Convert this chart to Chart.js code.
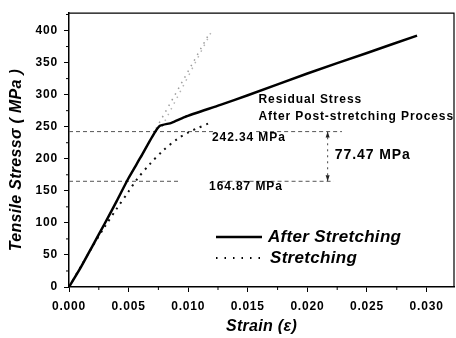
<!DOCTYPE html>
<html>
<head>
<meta charset="utf-8">
<script src="https://cdn.jsdelivr.net/npm/chart.js@4.4.1/dist/chart.umd.min.js"></script>
<style>
  html, body { margin: 0; padding: 0; background: #fff; }
  canvas { display: block; }
</style>
</head>
<body>
<canvas id="stressChart" width="456" height="338"></canvas>
<script>
// readings taken off the figure
const afterStrain = [0, 0.001, 0.002, 0.003, 0.004, 0.005, 0.006, 0.007, 0.0076, 0.0086, 0.0097, 0.0127, 0.015, 0.020, 0.025, 0.0292];
const afterStress = [0, 31, 65, 99, 134, 170, 202, 235, 251, 256, 265, 284, 299, 333, 365, 392];

const stretchStrain = [0, 0.001, 0.002, 0.003, 0.004, 0.005, 0.0057, 0.0068, 0.0079, 0.0091, 0.0101, 0.0107, 0.0117];
const stretchStress = [0, 32, 64, 94, 122, 149, 168, 192, 213, 231, 242, 247, 255];

// light dotted elastic extensions
const elasticAStrain = [0.0073, 0.0117];
const elasticAStress = [247, 393];
const elasticBStrain = [0.0078, 0.0120];
const elasticBStress = [250, 400];

// residual stress guide lines (null = gap)
const upperLevel = 242.34;
const lowerLevel = 164.87;
const upperGuideStrain = [0, 0.0121, 0.0139, 0.0157, 0.0229];
const lowerGuideStrain = [0, 0.0093, 0.0110, 0.0128, 0.0222];
const arrowStrain = 0.0217;

const xTicks = [0, 0.005, 0.010, 0.015, 0.020, 0.025, 0.030];
const yTicks = [0, 50, 100, 150, 200, 250, 300, 350, 400];

function pairs(xs, ys) {
  return xs.map((x, i) => ({ x: x, y: ys[i] }));
}
function guide(xs, level) {
  return xs.map((x, i) => ({ x: x, y: i === 2 ? null : level }));
}

const FONT = "'Liberation Sans', Arial, sans-serif";

const decorPlugin = {
  id: 'decor',
  beforeDraw(chart) {
    chart.ctx.letterSpacing = '0.8px';
  },
  afterDraw(chart) {
    const ctx = chart.ctx;
    const xs = chart.scales.x, ys = chart.scales.y;
    const a = chart.chartArea;
    const px = v => xs.getPixelForValue(v);
    const py = v => ys.getPixelForValue(v);

    ctx.save();
    // frame top / right
    ctx.strokeStyle = '#000';
    ctx.lineWidth = 1.2;
    ctx.beginPath();
    ctx.moveTo(a.left, a.top);
    ctx.lineTo(a.right, a.top);
    ctx.lineTo(a.right, a.bottom);
    ctx.stroke();

    // minor ticks
    ctx.lineWidth = 1;
    ctx.beginPath();
    for (let i = 0; i < xTicks.length; i++) {
      const v = xTicks[i] + 0.0025;
      if (v > xs.max) break;
      ctx.moveTo(px(v), a.bottom);
      ctx.lineTo(px(v), a.bottom + 3);
    }
    for (let i = 0; i < yTicks.length; i++) {
      const v = yTicks[i] + 25;
      if (v > ys.max) break;
      ctx.moveTo(a.left - 3, py(v));
      ctx.lineTo(a.left, py(v));
    }
    ctx.stroke();

    // arrow heads of the 77.47 MPa gap
    const ax = px(arrowStrain);
    const yTop = py(upperLevel), yBot = py(lowerLevel);
    ctx.fillStyle = '#222';
    ctx.beginPath();
    ctx.moveTo(ax, yTop);
    ctx.lineTo(ax - 2, yTop + 6);
    ctx.lineTo(ax + 2, yTop + 6);
    ctx.closePath();
    ctx.fill();
    ctx.beginPath();
    ctx.moveTo(ax, yBot);
    ctx.lineTo(ax - 2, yBot - 6);
    ctx.lineTo(ax + 2, yBot - 6);
    ctx.closePath();
    ctx.fill();

    // annotation texts
    ctx.fillStyle = '#000';
    ctx.textBaseline = 'middle';
    ctx.textAlign = 'left';
    ctx.letterSpacing = '0.9px';
    ctx.font = 'bold 12px ' + FONT;
    ctx.fillText('Residual Stress', px(0.0159), 100);
    ctx.fillText('After Post-stretching Process', px(0.0159), 117);
    ctx.fillText('242.34 MPa', px(0.0120), 138);
    ctx.fillText('164.87 MPa', px(0.01175), 187);
    ctx.font = 'bold 14px ' + FONT;
    ctx.fillText('77.47 MPa', px(0.0223), 155);

    // legend
    ctx.letterSpacing = '0.3px';
    ctx.strokeStyle = '#000';
    ctx.lineWidth = 2.5;
    ctx.beginPath();
    ctx.moveTo(216, 237);
    ctx.lineTo(262, 237);
    ctx.stroke();
    ctx.lineWidth = 1.8;
    ctx.setLineDash([1.5, 7]);
    ctx.beginPath();
    ctx.moveTo(216, 258);
    ctx.lineTo(262, 258);
    ctx.stroke();
    ctx.setLineDash([]);
    ctx.font = 'italic bold 17px ' + FONT;
    ctx.fillText('After Stretching', 268, 237);
    ctx.fillText('Stretching', 270, 258);

    // axis titles
    ctx.font = 'italic bold 16px ' + FONT;
    ctx.textAlign = 'center';
    ctx.fillText('Strain (\u03b5)', (a.left + a.right) / 2, 327);
    ctx.translate(17, 160);
    ctx.rotate(-Math.PI / 2);
    ctx.fillText('Tensile Stress\u03c3 ( MPa )', 0, 0);
    ctx.restore();
  }
};

const tickFont = { family: FONT, size: 12, weight: 'bold' };

new Chart(document.getElementById('stressChart').getContext('2d'), {
  type: 'scatter',
  data: {
    datasets: [
      {
        label: 'After Stretching',
        data: pairs(afterStrain, afterStress),
        showLine: true,
        borderColor: '#000',
        borderWidth: 2.5,
        pointRadius: 0,
        tension: 0.2
      },
      {
        label: 'Stretching',
        data: pairs(stretchStrain, stretchStress),
        showLine: true,
        borderColor: '#111',
        borderWidth: 2,
        borderDash: [2, 5],
        pointRadius: 0,
        tension: 0.3
      },
      {
        label: 'elastic A',
        data: pairs(elasticAStrain, elasticAStress),
        showLine: true,
        borderColor: '#9a9a9a',
        borderWidth: 1.5,
        borderDash: [1.5, 5],
        pointRadius: 0
      },
      {
        label: 'elastic B',
        data: pairs(elasticBStrain, elasticBStress),
        showLine: true,
        borderColor: '#b5b5b5',
        borderWidth: 1.5,
        borderDash: [1.5, 5],
        pointRadius: 0
      },
      {
        label: 'upper',
        data: guide(upperGuideStrain, upperLevel),
        showLine: true,
        borderColor: '#555',
        borderWidth: 1,
        borderDash: [4, 3],
        pointRadius: 0
      },
      {
        label: 'lower',
        data: guide(lowerGuideStrain, lowerLevel),
        showLine: true,
        borderColor: '#555',
        borderWidth: 1,
        borderDash: [4, 3],
        pointRadius: 0
      },
      {
        label: 'gap',
        data: [{ x: arrowStrain, y: lowerLevel }, { x: arrowStrain, y: upperLevel }],
        showLine: true,
        borderColor: '#444',
        borderWidth: 1,
        borderDash: [2, 4],
        pointRadius: 0
      }
    ]
  },
  options: {
    responsive: false,
    animation: false,
    layout: { padding: { top: 10, right: 2, left: 0, bottom: 0 } },
    plugins: { legend: { display: false }, tooltip: { enabled: false } },
    scales: {
      x: {
        type: 'linear',
        min: 0,
        max: 0.0323,
        afterFit: s => { s.height = 51; },
        afterBuildTicks: s => { s.ticks = xTicks.map(v => ({ value: v })); },
        ticks: {
          callback: v => v.toFixed(3),
          color: '#000',
          font: tickFont,
          padding: 7,
          maxRotation: 0,
          autoSkip: false
        },
        grid: { drawOnChartArea: false, color: '#000', tickLength: 5 },
        border: { color: '#000', width: 1.5 }
      },
      y: {
        min: 0,
        max: 427,
        afterFit: s => { s.width = 69; },
        afterBuildTicks: s => { s.ticks = yTicks.map(v => ({ value: v })); },
        ticks: {
          color: '#000',
          font: tickFont,
          padding: 6,
          autoSkip: false
        },
        grid: { drawOnChartArea: false, color: '#000', tickLength: 5 },
        border: { color: '#000', width: 1.5 }
      }
    }
  },
  plugins: [decorPlugin]
});
</script>
</body>
</html>
